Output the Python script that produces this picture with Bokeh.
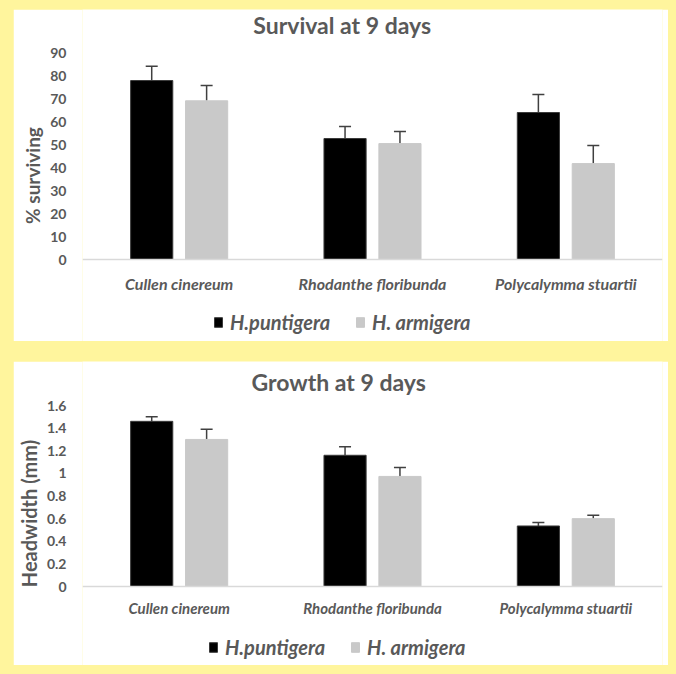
from bokeh.plotting import figure
from bokeh.layouts import column
from bokeh.models import (ColumnDataSource, FactorRange, Range1d, FixedTicker, Whisker,
                          TeeHead, Legend, LegendItem, CustomJSTickFormatter, Span)
from bokeh.core.properties import value
from bokeh.transform import dodge
from bokeh.embed import file_html
from bokeh.resources import INLINE

# ---- data ----
species = ["Cullen cinereum", "Rhodanthe floribunda", "Polycalymma stuartii"]
series = ["H.puntigera", "H. armigera"]

surv_hp = [77.8, 52.6, 63.9]
surv_hp_err = [6.2, 5.2, 7.8]
surv_ha = [69.0, 50.4, 41.7]
surv_ha_err = [6.6, 5.3, 7.9]
surv_ticks = [0, 10, 20, 30, 40, 50, 60, 70, 80, 90]

grow_hp = [1.46, 1.16, 0.535]
grow_hp_err = [0.04, 0.075, 0.03]
grow_ha = [1.30, 0.973, 0.60]
grow_ha_err = [0.09, 0.08, 0.03]
grow_ticks = [0, 0.2, 0.4, 0.6, 0.8, 1.0, 1.2, 1.4, 1.6]

FONT = "Lato"
TXT = "#595959"
YELLOW = "#FFF59D"
C_HP = "#000000"
C_HA = "#C9C9C9"
ERR = "#404040"
OFF = 0.142
BW = 0.218
W = 655


def make_panel(title, ylabel, hp, hp_err, ha, ha_err, ticks, height, lay):
    # lay: pixel layout inside this panel (panel-relative pixels)
    fl, fr = lay["frame_left"], lay["frame_right"]
    y0, ytop = lay["y0"], lay["ytop"]
    scale = (y0 - ytop) / ticks[-1]           # px per data unit
    y_end = ticks[-1] + ytop / scale
    y_start = -(height - y0) / scale

    def dy(py):
        return (y0 - py) / scale

    def dx(px):
        return (px - fl) / (fr - fl) * len(species)

    p = figure(x_range=FactorRange(*species), y_range=Range1d(y_start, y_end),
               width=W, height=height, output_backend="svg", toolbar_location=None,
               min_border_left=fl, min_border_right=W - fr, min_border_top=0,
               min_border_bottom=0)
    p.background_fill_color = "white"
    p.border_fill_color = "white"
    p.outline_line_color = None
    p.xgrid.grid_line_color = None
    p.ygrid.grid_line_color = None
    p.xaxis.visible = False

    # baseline (category axis line)
    p.add_layout(Span(location=0, dimension="width", line_color="#D9D9D9", line_width=1.5))

    src = ColumnDataSource(dict(
        species=species,
        hp=hp, hp_hi=[v + e for v, e in zip(hp, hp_err)],
        ha=ha, ha_hi=[v + e for v, e in zip(ha, ha_err)],
    ))
    r1 = p.vbar(x=dodge("species", -OFF, range=p.x_range), top="hp", bottom=0, width=BW,
                source=src, fill_color=C_HP, line_color="#3a3a3a", line_width=1)
    r2 = p.vbar(x=dodge("species", OFF, range=p.x_range), top="ha", bottom=0, width=BW,
                source=src, fill_color=C_HA, line_color=C_HA, line_width=1)

    for field, off in (("hp", -OFF), ("ha", OFF)):
        w = Whisker(base=dodge("species", off, range=p.x_range), lower=field,
                    upper=field + "_hi", source=src, dimension="height",
                    line_color=ERR, line_width=1.5, lower_head=None,
                    upper_head=TeeHead(size=12, line_color=ERR, line_width=1.5))
        p.add_layout(w)

    # category labels
    p.text(x=species, y=[dy(lay["cat_y"])] * len(species), text=species,
           text_font=value(FONT), text_font_style="bold italic",
           text_font_size=lay["cat_size"], text_color=TXT,
           text_align="center", text_baseline="middle")

    # chart title
    p.text(x=[dx(lay["title_x"])], y=[dy(lay["title_y"])], text=[title],
           text_font=value(FONT), text_font_style="bold", text_font_size="23px",
           text_color=TXT, text_align="center", text_baseline="middle")

    # y axis (bounds keep the axis title centred on the 0..max span)
    ya = p.yaxis[0]
    ya.bounds = (ticks[0], ticks[-1])
    ya.ticker = FixedTicker(ticks=ticks)
    ya.formatter = CustomJSTickFormatter(
        code="return Number.isInteger(tick) ? tick.toString() : tick.toFixed(1);")
    ya.axis_line_color = None
    ya.major_tick_line_color = None
    ya.minor_tick_line_color = None
    ya.major_label_text_font = FONT
    ya.major_label_text_font_style = "bold"
    ya.major_label_text_font_size = "14px"
    ya.major_label_text_color = TXT
    ya.major_label_standoff = 10
    ya.axis_label = ylabel
    ya.axis_label_text_font = FONT
    ya.axis_label_text_font_style = "bold"
    ya.axis_label_text_font_size = lay["ylab_size"]
    ya.axis_label_text_color = TXT
    ya.axis_label_standoff = lay["ylab_standoff"]

    legend = Legend(items=[LegendItem(label=series[0], renderers=[r1]),
                           LegendItem(label=series[1], renderers=[r2])],
                    orientation="horizontal",
                    location=(lay["leg_x"] - fl, height - lay["leg_y"] - 10),
                    margin=0, padding=0, spacing=25, label_standoff=7,
                    glyph_width=10, glyph_height=12, label_height=20,
                    border_line_color=None, background_fill_alpha=0,
                    label_text_font=FONT, label_text_font_style="bold italic",
                    label_text_font_size="20px", label_text_color=TXT)
    p.add_layout(legend, "center")
    return p


lay1 = dict(frame_left=66, frame_right=649, y0=250, ytop=43, cat_y=274, cat_size="16px",
            title_x=327, title_y=15, ylab_standoff=3, ylab_size="19px",
            leg_x=197, leg_y=315)
lay2 = dict(frame_left=69, frame_right=651, y0=225, ytop=44, cat_y=246, cat_size="15px",
            title_x=326, title_y=20, ylab_standoff=3, ylab_size="20px",
            leg_x=195, leg_y=288)

p1 = make_panel("Survival at 9 days", "% surviving", surv_hp, surv_hp_err,
                surv_ha, surv_ha_err, surv_ticks, 332, lay1)
p2 = make_panel("Growth at 9 days", "Headwidth (mm)", grow_hp, grow_hp_err,
                grow_ha, grow_ha_err, grow_ticks, 304, lay2)

layout = column(p1, p2, spacing=20,
                styles={"background-color": YELLOW, "padding": "9px 8px 9px 13px"})

open("out.html", "w").write(file_html(layout, INLINE))
